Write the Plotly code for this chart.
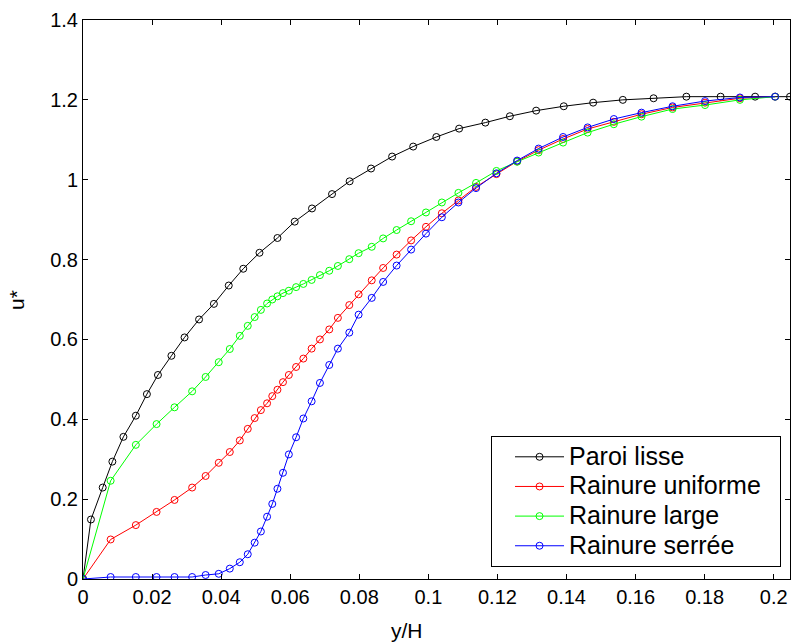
import plotly.graph_objects as go

# Wall-normal position y/H for the smooth wall profile
y_lisse = [0, 0.0023, 0.0057, 0.0085, 0.0117, 0.0153, 0.0185, 0.0217, 0.0256, 0.0294,
           0.0336, 0.0379, 0.0422, 0.0464, 0.0511, 0.0563, 0.0613, 0.0663, 0.0721, 0.0772,
           0.0834, 0.0895, 0.0956, 0.1023, 0.1089, 0.1165, 0.1236, 0.1312, 0.1392, 0.1477,
           0.1563, 0.1652, 0.1747, 0.1846, 0.1946, 0.2047]
u_lisse = [0, 0.149, 0.229, 0.294, 0.356, 0.409, 0.463, 0.511, 0.559, 0.605,
           0.650, 0.689, 0.735, 0.777, 0.817, 0.854, 0.895, 0.928, 0.964, 0.996,
           1.028, 1.058, 1.083, 1.107, 1.128, 1.143, 1.159, 1.173, 1.184, 1.193,
           1.200, 1.204, 1.208, 1.208, 1.208, 1.208]

# Wall-normal position y/H shared by the grooved-wall profiles
y_rainure = [0, 0.0080, 0.0153, 0.0213, 0.0265, 0.0316, 0.0355, 0.0393, 0.0425, 0.0454,
             0.0477, 0.0497, 0.0515, 0.0533, 0.0548, 0.0563, 0.0579, 0.0596, 0.0617, 0.0638,
             0.0662, 0.0686, 0.0713, 0.0738, 0.0771, 0.0798, 0.0836, 0.0869, 0.0908, 0.0950,
             0.0993, 0.1039, 0.1087, 0.1138, 0.1197, 0.1257, 0.1319, 0.1390, 0.1461, 0.1537,
             0.1617, 0.1707, 0.1801, 0.1902, 0.2004]

u_uniforme = [0, 0.099, 0.135, 0.168, 0.198, 0.229, 0.258, 0.291, 0.318, 0.347,
              0.376, 0.403, 0.423, 0.440, 0.458, 0.474, 0.493, 0.511, 0.531, 0.552,
              0.577, 0.600, 0.625, 0.654, 0.686, 0.713, 0.748, 0.779, 0.8125, 0.848,
              0.882, 0.916, 0.948, 0.982, 1.014, 1.046, 1.074, 1.102, 1.127, 1.145,
              1.164, 1.181, 1.193, 1.204, 1.208]

u_large = [0, 0.246, 0.336, 0.388, 0.430, 0.470, 0.506, 0.543, 0.576, 0.609,
           0.634, 0.656, 0.674, 0.690, 0.700, 0.708, 0.716, 0.722, 0.731, 0.739,
           0.749, 0.761, 0.772, 0.784, 0.801, 0.816, 0.832, 0.853, 0.874, 0.896,
           0.918, 0.943, 0.967, 0.992, 1.022, 1.045, 1.068, 1.093, 1.118, 1.139,
           1.158, 1.177, 1.187, 1.200, 1.208]

u_serree = [0, 0.005, 0.005, 0.005, 0.005, 0.005, 0.010, 0.013, 0.026, 0.042,
            0.062, 0.091, 0.119, 0.156, 0.188, 0.226, 0.266, 0.312, 0.355, 0.402,
            0.445, 0.491, 0.536, 0.577, 0.617, 0.662, 0.704, 0.744, 0.785, 0.825,
            0.865, 0.906, 0.943, 0.979, 1.016, 1.048, 1.078, 1.107, 1.131, 1.152,
            1.168, 1.184, 1.197, 1.206, 1.208]

x_ticks = [0, 0.02, 0.04, 0.06, 0.08, 0.1, 0.12, 0.14, 0.16, 0.18, 0.2]
x_ticklabels = ["0", "0.02", "0.04", "0.06", "0.08", "0.1", "0.12", "0.14", "0.16", "0.18", "0.2"]
y_ticks = [0, 0.2, 0.4, 0.6, 0.8, 1.0, 1.2, 1.4]
y_ticklabels = ["0", "0.2", "0.4", "0.6", "0.8", "1", "1.2", "1.4"]

FONT = "Liberation Sans, Arial, Helvetica, sans-serif"

series = [
    ("Paroi lisse", y_lisse, u_lisse, "#000000"),
    ("Rainure uniforme", y_rainure, u_uniforme, "#ff0000"),
    ("Rainure large", y_rainure, u_large, "#00ff00"),
    ("Rainure serrée", y_rainure, u_serree, "#0000ff"),
]


def legend_label(text):
    # larger glyphs than the legend row pitch, plus a little right padding
    return '<span style="font-size:25px">' + text + "\u00a0\u00a0</span>"


fig = go.Figure()
for name, xs, ys, color in series:
    fig.add_trace(go.Scatter(
        x=xs, y=ys, name=legend_label(name), mode="lines+markers",
        line=dict(color=color, width=1),
        marker=dict(symbol="circle-open", size=7, color=color, line=dict(width=1, color=color)),
    ))

axis_common = dict(
    showline=True, linecolor="black", linewidth=1, mirror="ticks",
    ticks="inside", ticklen=5, tickwidth=1, tickcolor="black",
    showgrid=False, zeroline=False,
    tickfont=dict(family=FONT, size=20, color="black"),
)

fig.update_layout(
    width=792, height=643,
    margin=dict(l=83, r=2, t=20, b=64),
    paper_bgcolor="white", plot_bgcolor="white",
    font=dict(family=FONT, color="black"),
    xaxis=dict(range=[0, 0.2047], tickvals=x_ticks, ticktext=x_ticklabels, **axis_common),
    yaxis=dict(range=[0, 1.4], tickvals=y_ticks, ticktext=y_ticklabels, **axis_common),
    legend=dict(
        x=0.9873, y=0.0215, xanchor="right", yanchor="bottom",
        bgcolor="white", bordercolor="black", borderwidth=1,
        font=dict(family=FONT, size=20.5, color="black"),
        tracegroupgap=0, itemwidth=49, indentation=18,
    ),
    showlegend=True,
    annotations=[
        dict(text="u*", xref="paper", yref="paper", x=-0.095, y=0.499,
             xanchor="center", yanchor="middle", textangle=-90, showarrow=False,
             font=dict(family=FONT, size=21, color="black")),
        dict(text="y/H", xref="paper", yref="paper", x=(407 - 83) / 707, y=-0.093,
             xanchor="center", yanchor="middle", showarrow=False,
             font=dict(family=FONT, size=21, color="black")),
    ],
)

fig.write_html("out.html")
